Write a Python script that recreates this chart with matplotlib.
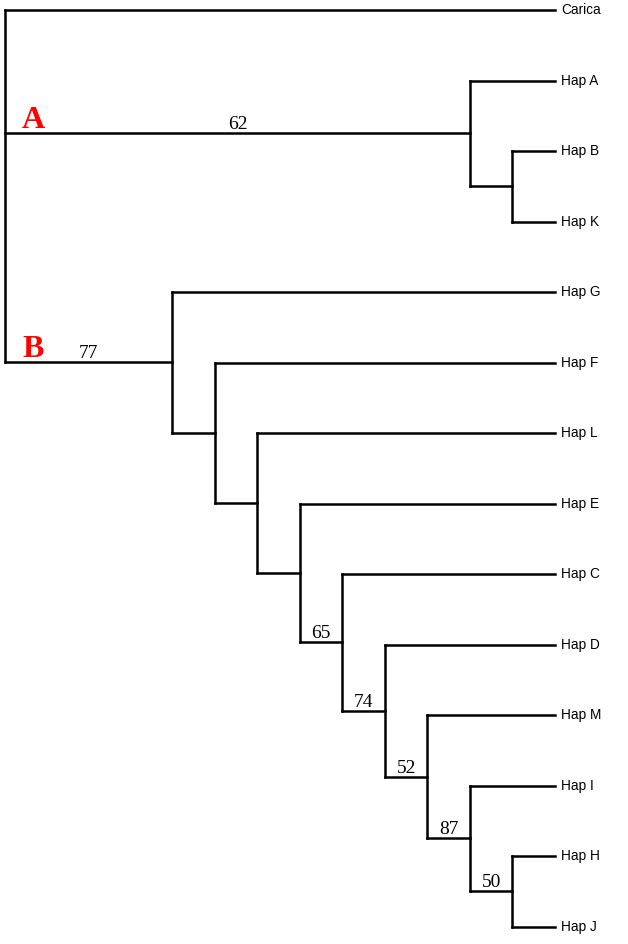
import matplotlib.pyplot as plt

# tree: internal node = (children, support label); leaves are names
clade_HJ = (["Hap H", "Hap J"], "50")
clade_I = (["Hap I", clade_HJ], "87")
clade_M = (["Hap M", clade_I], "52")
clade_D = (["Hap D", clade_M], "74")
clade_C = (["Hap C", clade_D], "65")
clade_E = (["Hap E", clade_C], None)
clade_L = (["Hap L", clade_E], None)
clade_F = (["Hap F", clade_L], None)
clade_B = (["Hap G", clade_F], "77")
clade_BK = (["Hap B", "Hap K"], None)
clade_A = (["Hap A", clade_BK], "62")
tree = (["Carica", clade_A, clade_B], None)

clade_names = {id(clade_A): "A", id(clade_B): "B"}
root_depth = 12.94  # root sits further left than a plain cladogram step

pos = {}
leaf_count = [0]
segments = []
support_labels = []
clade_marks = []


def place(node):
    if isinstance(node, str):
        y = leaf_count[0]
        leaf_count[0] += 1
        pos[node] = (0.0, float(y))
        return pos[node]
    pts = [place(c) for c in node[0]]
    x = min(p[0] for p in pts) - 1
    y = (pts[0][1] + pts[-1][1]) / 2
    pos[id(node)] = (x, y)
    return x, y


def key(n):
    return n if isinstance(n, str) else id(n)


def draw(node, x0):
    children = node[0]
    ys = [pos[key(c)][1] for c in children]
    segments.append(([x0, x0], [min(ys), max(ys)]))
    for c in children:
        cx, cy = pos[key(c)]
        segments.append(([x0, cx], [cy, cy]))
        if not isinstance(c, str):
            if c[1]:
                support_labels.append(((x0 + cx) / 2, cy, c[1]))
            if id(c) in clade_names:
                clade_marks.append((x0, cy, clade_names[id(c)]))
            draw(c, cx)


place(tree)
root_x = -root_depth
pos[id(tree)] = (root_x, pos[id(tree)][1])
draw(tree, root_x)

fig = plt.figure(figsize=(6.28, 9.44), dpi=100)
ax = fig.add_axes([0, 0, 1, 1])
for xs, ys in segments:
    ax.plot(xs, ys, color="black", lw=1.8, solid_capstyle="projecting")

for name in [k for k in pos if isinstance(k, str)]:
    lx, ly = pos[name]
    ax.annotate(name, (lx, ly), xytext=(6, 0), textcoords="offset pixels",
                ha="left", va="center", fontsize=9.8, family="Liberation Sans")

for sx, sy, s in support_labels:
    ax.annotate(s, (sx, sy), xytext=(0, 4), textcoords="offset pixels",
                ha="center", va="baseline", fontsize=14, family="Liberation Serif")

for cx, cy, s in clade_marks:
    ax.annotate(s, (cx, cy), xytext=(28, 5), textcoords="offset pixels",
                ha="center", va="baseline", fontsize=23, fontweight="bold",
                color="red", family="Liberation Serif")

step = 42.5
ax.set_xlim(root_x - 5 / step, root_x + 623 / step)
ax.set_ylim((944 - 10) / 70.5, -10 / 70.5)
ax.axis("off")

fig.savefig("out.png", dpi=100)
